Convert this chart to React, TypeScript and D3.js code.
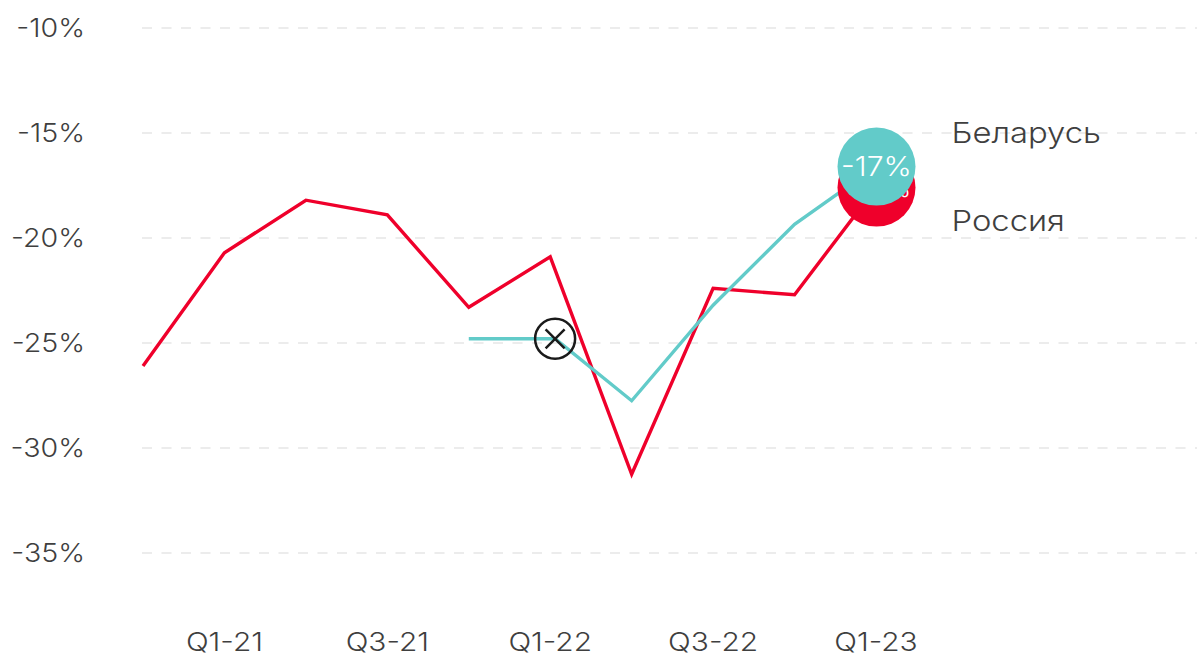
import React from "react";
import * as d3 from "d3";

const quarters = ["Q4-20","Q1-21","Q2-21","Q3-21","Q4-21","Q1-22","Q2-22","Q3-22","Q4-22","Q1-23"];
const xTickLabels = ["Q1-21","Q3-21","Q1-22","Q3-22","Q1-23"];
const yTicks = [-10,-15,-20,-25,-30,-35];
const russiaPos = [0,1,2,3,4,5,6,7,8,9];
const russia = [-26.1,-20.7,-18.2,-18.9,-23.3,-20.9,-31.25,-22.4,-22.7,-17.6];
const belarusPos = [4,5.06,6,7,8,9];
const belarus = [-24.8,-24.8,-27.75,-23.2,-19.35,-16.6];
const russiaLabel = "Россия";
const belarusLabel = "Беларусь";
const russiaEnd = "-18%";
const belarusEnd = "-17%";
const markerPos = 5.06;
const markerValue = -24.8;

const RED = "#ef002b";
const TEAL = "#62cbc9";
const INK = "#3f3f3f";
const FONT = "Inter, 'Open Sans', sans-serif";

function T({ x, y, anchor, size, fill, widen = 1.15, children }: any) {
  return (
    <text transform={`translate(${x},${y}) scale(${widen},1)`} dy="0.36em" textAnchor={anchor} fontSize={size} fill={fill}>
      {children}
    </text>
  );
}

export default function App() {
  const x = d3.scaleLinear().domain([0, 9]).range([143, 876]);
  const y = d3.scaleLinear().domain([-10, -35]).range([28, 553]);
  const path = (pos: number[], vals: number[]) =>
    d3.line<number>().x((_, i) => x(pos[i])).y(d => y(d))(vals) as string;
  const lx = x(9);
  const rr = russia[russia.length - 1];
  const br = belarus[belarus.length - 1];
  const mx = x(markerPos);
  const my = y(markerValue);
  const R = 39;
  const m = 9.5;
  return (
    <div style={{ position: "fixed", left: 0, top: 0, width: 1197, height: 656, overflow: "hidden", background: "#fff" }}>
      <svg width={1197} height={656} style={{ display: "block" }} fontFamily={FONT} fontWeight={300}>
        {yTicks.map(t => (
          <g key={t}>
            <line x1={142} x2={1197} y1={y(t)} y2={y(t)} stroke="#ececec" strokeWidth={2} strokeDasharray="10 9.5" />
            <T x={85} y={y(t)} anchor="end" size={26} fill={INK} widen={1.1}>{t}%</T>
          </g>
        ))}
        {xTickLabels.map(q => (
          <T key={q} x={x(quarters.indexOf(q))} y={642} anchor="middle" size={26} fill={INK}>{q}</T>
        ))}
        <path d={path(russiaPos, russia)} fill="none" stroke={RED} strokeWidth={3.4} />
        <path d={path(belarusPos, belarus)} fill="none" stroke={TEAL} strokeWidth={3.4} />
        <circle cx={lx + 0.5} cy={y(rr)} r={R} fill={RED} />
        <T x={lx + 3} y={y(rr)} anchor="middle" size={25} fill="#fff" widen={1.08}>{russiaEnd}</T>
        <circle cx={lx + 0.5} cy={y(br)} r={R} fill={TEAL} />
        <T x={lx + 0.5} y={y(br)} anchor="middle" size={27} fill="#fff" widen={1.12}>{belarusEnd}</T>
        <circle cx={mx} cy={my} r={20} fill="none" stroke="#1a1a1a" strokeWidth={2.5} />
        <path d={`M${mx-m},${my-m}L${mx+m},${my+m}M${mx+m},${my-m}L${mx-m},${my+m}`} stroke="#1a1a1a" strokeWidth={2.5} fill="none" />
        <T x={951.5} y={y(-15)} anchor="start" size={28.5} fill={INK}>{belarusLabel}</T>
        <T x={951.5} y={y(-19.2)} anchor="start" size={28.5} fill={INK}>{russiaLabel}</T>
      </svg>
    </div>
  );
}
